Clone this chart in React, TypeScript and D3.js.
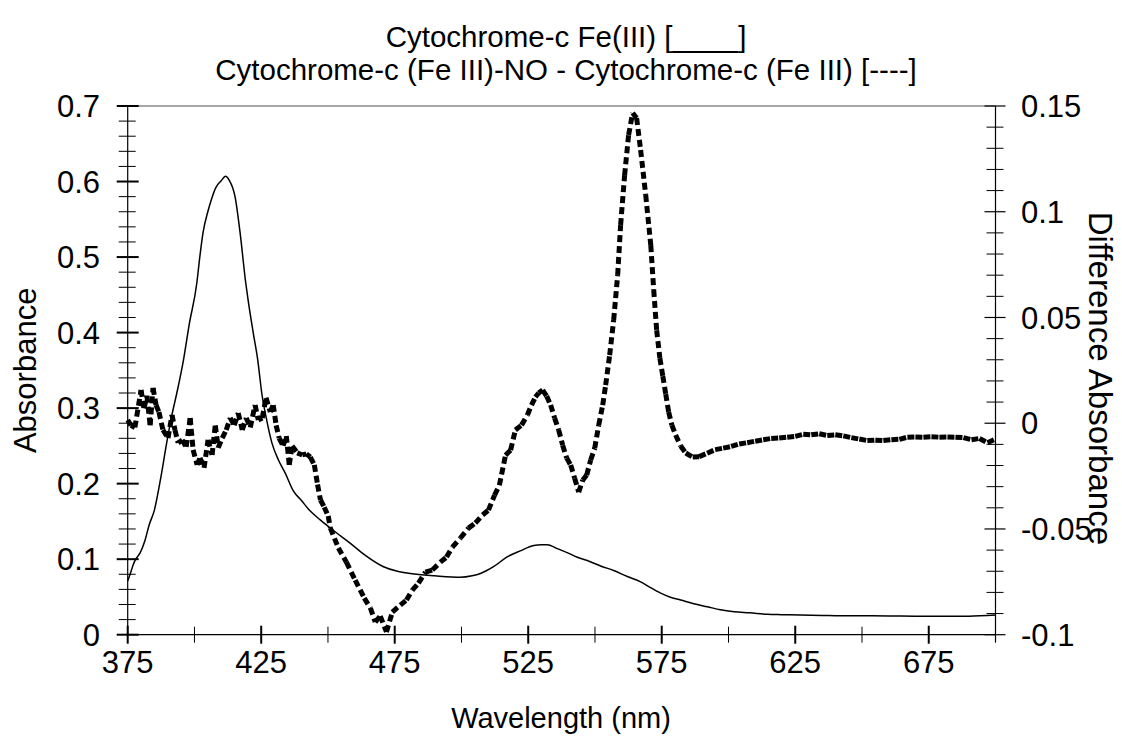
import React from "react";
import * as d3 from "d3";

// Solid line: Cytochrome-c Fe(III) absorbance (left axis)
const solidNm = [375,376,377,378,379.6,381.5,383,385,387.5,389.6,391.5,393.4,395.9,398,400.9,402,403.2,405,406.5,408,410,411.6,413,415.2,417.1,419.2,420.1,422,423.7,425.2,427,429,431.5,434,437.1,440,443,447.1,452.8,458.4,464,470.8,476,480.9,490,499.6,504,507.1,512,517.1,522,527.1,530,532.1,535.9,540,543.4,548,552.1,557,562.1,567.1,570,574.6,578,582.1,587,592.1,597,602.1,608,614.6,620,627.1,635,642.1,650,660,670,680,690,700];
const solidAbs = [0.071,0.081,0.092,0.1,0.108,0.125,0.145,0.165,0.21,0.254,0.29,0.32,0.364,0.41,0.466,0.5,0.532,0.56,0.578,0.592,0.601,0.607,0.602,0.58,0.532,0.466,0.443,0.4,0.364,0.32,0.285,0.254,0.231,0.214,0.19,0.178,0.165,0.152,0.136,0.121,0.105,0.09,0.084,0.081,0.078,0.076,0.078,0.081,0.09,0.103,0.111,0.118,0.119,0.119,0.114,0.108,0.1025,0.097,0.091,0.085,0.077,0.07,0.064,0.055,0.05,0.046,0.041,0.037,0.033,0.0305,0.029,0.027,0.0265,0.026,0.0255,0.025,0.025,0.0248,0.0245,0.0245,0.0245,0.026];

// Dashed line: difference spectrum (right axis)
const diffNm = [375,376.2,377.7,380,381.1,382.2,383.4,384.5,385.6,386.7,388.2,390.1,391.6,392.7,393.9,395.4,396.9,398.4,399.5,401,402.1,403.6,405.1,406.6,407.8,408.9,410.4,411.9,413.4,414.9,416.4,417.9,419.4,420.9,422.7,423.9,425.4,426.8,428.4,429.5,430.6,431.7,433.2,434.4,435.5,436.6,438.5,440.4,441.9,443.4,444.9,446.1,447.2,448.6,450.1,450.9,453.9,456.9,460.2,463.6,465.9,467.7,469.6,471.9,474.1,477.1,479.4,481.6,483.9,486.5,489.1,492.1,494.4,496.6,499.6,502.6,505.2,507.9,510.1,512.4,514.2,516.5,518.4,520.2,522.5,524.7,526.2,527.7,528.9,530.4,531.9,533.4,534.9,536.4,537.9,539.4,540.9,542.4,543.9,545.4,546.9,548.4,549.9,551.4,552.9,554,555.5,557,558.5,559.6,561.1,562.6,564.1,565.6,567.1,569,570.9,572,573.1,574.3,575.4,576.5,577.6,578.8,580.2,582.1,584,586.6,589,592,595,598,601,604,607,610,613,616,619,622,625,628,631,634,637,640,643,646,649,652,655,658,661,664,667,670,673,676,679,682,685,688,691,694,697,700];
const diffAbs = [0.0015,-0.001,-0.002,0.0157,0.007,0.013,-0.001,0.0167,0.0086,0.0053,-0.0032,-0.007,0.0039,-0.0032,-0.0093,-0.0079,-0.0112,0.0025,-0.0126,-0.0197,-0.0164,-0.0211,-0.0079,-0.015,-0.001,-0.0116,-0.007,-0.0032,0.0025,-0.001,0.0048,-0.0032,0.0025,-0.002,0.0086,0.0015,0.0025,0.012,0.0053,0.0086,-0.001,-0.007,-0.0107,-0.006,-0.0197,-0.0107,-0.014,-0.015,-0.0145,-0.016,-0.0197,-0.029,-0.0363,-0.0397,-0.0439,-0.0496,-0.059,-0.0657,-0.0742,-0.0827,-0.0874,-0.094,-0.0912,-0.0987,-0.0893,-0.086,-0.0836,-0.0789,-0.0756,-0.0704,-0.0694,-0.0657,-0.0633,-0.0586,-0.0543,-0.0496,-0.0472,-0.0434,-0.0411,-0.034,-0.0293,-0.0151,-0.0127,-0.0032,-0.0009,0.0039,0.0086,0.0124,0.0143,0.0157,0.0128,0.0086,0.0024,-0.0032,-0.0104,-0.0165,-0.0198,-0.026,-0.0326,-0.0269,-0.0245,-0.0174,-0.0118,-0.0009,0.0086,0.018,0.0322,0.0488,0.0701,0.0937,0.1173,0.1363,0.1467,0.1443,0.1292,0.1079,0.0842,0.063,0.044,0.0308,0.0223,0.0138,0.0053,-0.0009,-0.0056,-0.0108,-0.0141,-0.016,-0.0158,-0.0142,-0.0125,-0.0118,-0.011,-0.0098,-0.0092,-0.0085,-0.0078,-0.0072,-0.007,-0.0066,-0.0062,-0.0052,-0.0055,-0.005,-0.0058,-0.0055,-0.006,-0.0068,-0.0075,-0.0082,-0.008,-0.0082,-0.0078,-0.0076,-0.0066,-0.0065,-0.0066,-0.0064,-0.0066,-0.0065,-0.0066,-0.0068,-0.0078,-0.0072,-0.0092,-0.0075];

const xTickLabels = [375, 425, 475, 525, 575, 625, 675];
const xMinorTicks = [400, 450, 500, 550, 600, 650, 700];
const leftTicks = [0, 0.1, 0.2, 0.3, 0.4, 0.5, 0.6, 0.7];
const rightTicks = [-0.1, -0.05, 0, 0.05, 0.1, 0.15];

const titleLines = [
  "Cytochrome-c Fe(III) [____]",
  "Cytochrome-c (Fe III)-NO - Cytochrome-c (Fe III) [----]",
];

const FONT = "'Liberation Sans', Arial, sans-serif";

export default function App() {
  const W = 1122, H = 750;
  const L = 127.7, R = 995.5, T = 106, B = 634.7;
  const x = d3.scaleLinear().domain([375, 700]).range([L, R]);
  const yL = d3.scaleLinear().domain([0, 0.7]).range([B, T]);
  const yR = d3.scaleLinear().domain([-0.1, 0.15]).range([B, T]);

  const solidPts = solidNm.map((n, i) => [n, solidAbs[i]] as [number, number]);
  const solidPath = d3.line<[number, number]>().x(d => x(d[0])).y(d => yL(d[1])).curve(d3.curveMonotoneX)(solidPts) || "";

  const diffPts = diffNm.map((n, i) => [x(n), yR(diffAbs[i])]);
  const segs = diffPts.slice(1).map((p, i) => [diffPts[i], p]);

  const leftMinor = d3.range(0, 71, 2).map(v => v / 100).filter(v => Math.abs(Math.round(v * 10) - v * 10) > 1e-6);
  const rightMinor = d3.range(-10, 16, 1).map(v => v / 100).filter(v => Math.abs(Math.round(v * 20) - v * 20) > 1e-6);

  return (
    <svg width={W} height={H} style={{ position: "absolute", left: 0, top: 0, background: "#fff" }} fontFamily={FONT}>
      <rect x={0} y={0} width={W} height={H} fill="#fff" />
      {titleLines.map((t, i) => (
        <text key={i} x={566} y={47 + i * 33} textAnchor="middle" fontSize={29.5} fill="#000">{t}</text>
      ))}
      <line x1={L} x2={R} y1={T} y2={T} stroke="#888" strokeWidth={1.5} />
      <line x1={L} x2={L} y1={T} y2={B} stroke="#000" strokeWidth={1.2} />
      {leftMinor.map((v, i) => (
        <line key={"lm" + i} x1={L - 9} x2={L + 8} y1={yL(v)} y2={yL(v)} stroke="#000" strokeWidth={1} />
      ))}
      {leftTicks.map((v, i) => (
        <g key={"lt" + i}>
          <line x1={L - 11} x2={L + 11} y1={yL(v)} y2={yL(v)} stroke="#000" strokeWidth={2} />
          <text x={100} y={yL(v)} dy="0.36em" textAnchor="end" fontSize={31}>{String(v)}</text>
        </g>
      ))}
      <line x1={R} x2={R} y1={T} y2={B + 7} stroke="#000" strokeWidth={1.2} />
      {rightMinor.map((v, i) => (
        <line key={"rm" + i} x1={R - 9} x2={R + 8} y1={yR(v)} y2={yR(v)} stroke="#000" strokeWidth={1} />
      ))}
      {rightTicks.map((v, i) => (
        <g key={"rt" + i}>
          <line x1={R - 11} x2={R + 10} y1={yR(v)} y2={yR(v)} stroke="#000" strokeWidth={1.2} />
          <text x={1021} y={yR(v)} dy="0.36em" textAnchor="start" fontSize={31}>{String(v)}</text>
        </g>
      ))}
      <line x1={L} x2={R} y1={B} y2={B} stroke="#000" strokeWidth={1.2} />
      {xMinorTicks.map((v, i) => (
        <line key={"xm" + i} x1={x(v)} x2={x(v)} y1={B - 8} y2={B + 8} stroke="#000" strokeWidth={1} />
      ))}
      {xTickLabels.map((v, i) => (
        <g key={"xt" + i}>
          <line x1={x(v)} x2={x(v)} y1={B - 9} y2={B + 9} stroke="#000" strokeWidth={2} />
          <text x={x(v)} y={673} textAnchor="middle" fontSize={31}>{String(v)}</text>
        </g>
      ))}
      <text x={561} y={728} textAnchor="middle" fontSize={29}>Wavelength (nm)</text>
      <text transform={`translate(36,${(T + B) / 2}) rotate(-90)`} textAnchor="middle" fontSize={31}>Absorbance</text>
      <text transform={`translate(1089,${(T + B) / 2 + 8}) rotate(90)`} textAnchor="middle" fontSize={33}>Difference Absorbance</text>
      <path d={solidPath} fill="none" stroke="#000" strokeWidth={1.5} />
      {segs.map((s, i) => (
        <line key={"d" + i} x1={s[0][0]} y1={s[0][1]} x2={s[1][0]} y2={s[1][1]} stroke="#000" strokeWidth={5} strokeDasharray="7 4" strokeLinecap="butt" />
      ))}
    </svg>
  );
}
